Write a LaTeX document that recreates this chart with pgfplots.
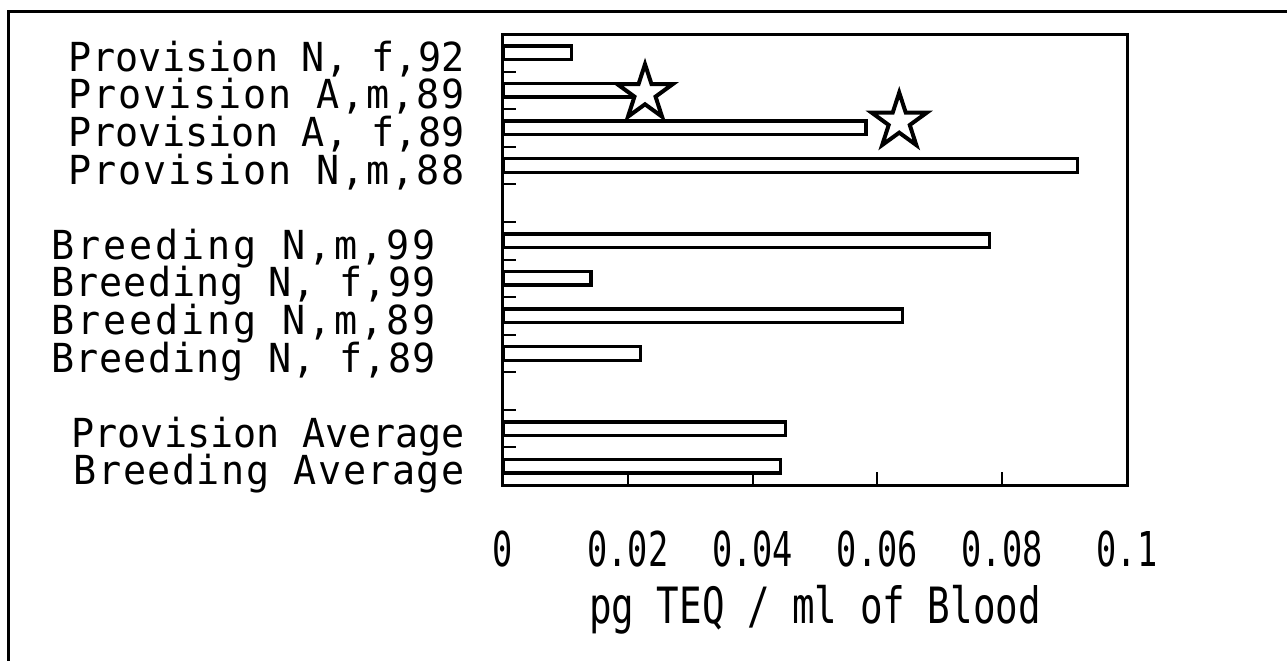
\documentclass[border=0pt]{standalone}
\usepackage{pgfplots}
\pgfplotsset{compat=1.18}
\usepackage{fontspec}
\setmainfont{DejaVu Sans Mono}
\newfontfamily\provfont{DejaVu Sans Mono}[FakeStretch=0.96]
\newfontfamily\provmfont{DejaVu Sans Mono}[FakeStretch=0.96, LetterSpace=4.7]
\newfontfamily\provffont{DejaVu Sans Mono}[FakeStretch=0.96, LetterSpace=0.5]
\newfontfamily\breedfont{DejaVu Sans Mono}[FakeStretch=0.96, LetterSpace=7.2]
\newfontfamily\breedffont{DejaVu Sans Mono}[FakeStretch=0.96, LetterSpace=2.8]
\newfontfamily\bavgfont{DejaVu Sans Mono}[FakeStretch=0.96, LetterSpace=3.7]
\newfontfamily\tickfont{DejaVu Sans Mono}[FakeStretch=0.7]
\newfontfamily\labfont{DejaVu Sans Mono}[FakeStretch=0.75]
\pgfdeclareplotmark{ostar}{%
  \pgfpathmoveto{\pgfpointpolar{90}{\pgfplotmarksize}}%
  \pgfpathlineto{\pgfpointpolar{126}{0.382\pgfplotmarksize}}%
  \pgfpathlineto{\pgfpointpolar{162}{\pgfplotmarksize}}%
  \pgfpathlineto{\pgfpointpolar{198}{0.382\pgfplotmarksize}}%
  \pgfpathlineto{\pgfpointpolar{234}{\pgfplotmarksize}}%
  \pgfpathlineto{\pgfpointpolar{270}{0.382\pgfplotmarksize}}%
  \pgfpathlineto{\pgfpointpolar{306}{\pgfplotmarksize}}%
  \pgfpathlineto{\pgfpointpolar{342}{0.382\pgfplotmarksize}}%
  \pgfpathlineto{\pgfpointpolar{18}{\pgfplotmarksize}}%
  \pgfpathlineto{\pgfpointpolar{54}{0.382\pgfplotmarksize}}%
  \pgfpathclose
  \pgfusepathqfillstroke
}
\begin{document}
\begin{tikzpicture}
\useasboundingbox (0pt,0pt) rectangle (643.5pt,-330pt);
\draw[line width=1.2pt] (4.2pt,-331pt) -- (4.2pt,-5.8pt) -- (644pt,-5.8pt);
\begin{axis}[
  at={(251.5pt,-242.5pt)}, anchor=south west,
  scale only axis, width=312pt, height=225.5pt,
  xmin=0, xmax=0.1, ymin=-0.5, ymax=11.5,
  axis line style={line width=1.5pt},
  tick pos=left,
  major tick length=0pt, minor tick length=6.5pt,
  every tick/.style={black, line width=1pt},
  xtick={0,0.02,0.04,0.06,0.08,0.1},
  xticklabels={0,0.02,0.04,0.06,0.08,0.1},
  minor xtick={0.02,0.04,0.06,0.08},
  ytick={0,1,3,4,5,6,8,9,10,11},
  yticklabels={{\bavgfont Breeding Average},{\provfont Provision Average},
    {\breedffont Breeding N{,} f{,}89}\hspace*{14.5pt},{\breedfont Breeding N{,}m{,}89}\hspace*{14.5pt},
    {\breedffont Breeding N{,} f{,}99}\hspace*{14.5pt},{\breedfont Breeding N{,}m{,}99}\hspace*{14.5pt},
    {\provmfont Provision N{,}m{,}88},{\provffont Provision A{,} f{,}89},{\provmfont Provision A{,}m{,}89},{\provffont Provision N{,} f{,}92}},
  minor ytick={0.5,1.5,2.5,3.5,4.5,5.5,6.5,7.5,8.5,9.5,10.5},
  xticklabel style={font=\tickfont\fontsize{24pt}{24pt}\selectfont, anchor=base, yshift=-40.5pt, inner sep=0pt},
  yticklabel style={font=\fontsize{20pt}{20pt}\selectfont, anchor=base east, xshift=-19pt, yshift=-9.3pt, inner sep=0pt},
  xlabel={pg TEQ / ml of Blood},
  xlabel style={font=\labfont\fontsize{25pt}{25pt}\selectfont, at={(axis description cs:0.5,0)}, anchor=base, yshift=-69pt, inner sep=0pt},
  clip=false,
]
\addplot[xbar, bar width=6.8pt, draw=black, fill=white, line width=1.7pt] coordinates {
  (0.0445,0) (0.0453,1) (0.0220,3) (0.0640,4) (0.0141,5) (0.0780,6)
  (0.0921,8) (0.0582,9) (0.0205,10) (0.0110,11)};
\addplot[only marks, mark=ostar, mark size=14.5pt,
  mark options={fill=white, draw=black, line width=2pt, line join=miter}]
  coordinates {(0.02276,9.925) (0.0635,9.17)};
\end{axis}
\end{tikzpicture}
\end{document}
